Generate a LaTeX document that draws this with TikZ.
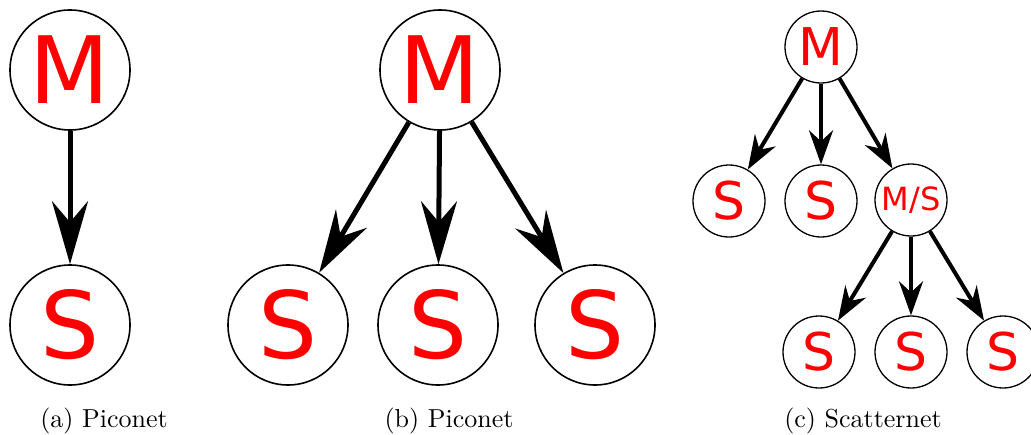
\documentclass[tikz,border=0pt]{standalone}
\usepackage{fontspec}
\newfontfamily\nodefont{DejaVu Sans}
\usetikzlibrary{arrows.meta}
\begin{document}
\begin{tikzpicture}[x=1pt,y=-1pt,
  big/.style={circle, draw=black, line width=1.6pt, fill=white, minimum size=120pt, inner sep=0pt, text=red, font=\nodefont\fontsize{93}{93}\selectfont},
  small/.style={circle, draw=black, line width=1.3pt, fill=white, minimum size=72pt, inner sep=0pt, text=red, font=\nodefont\fontsize{52}{52}\selectfont},
  mixed/.style={small, font=\nodefont\fontsize{32}{32}\selectfont},
  bigarrow/.style={line width=5pt, -{Stealth[length=63pt, width=36pt, inset=21pt]}},
  smallarrow/.style={line width=4pt, -{Stealth[length=34pt, width=24pt, inset=11pt]}},
  caption/.style={font=\normalsize, scale=2.6, anchor=base}]
\useasboundingbox (0,0) rectangle (1031,434);
% (a)
\node[big] (aM) at (70,70) {M};
\node[big] (aS) at (70,325) {S};
\draw[bigarrow] (aM) -- (aS);
\node[caption] (capA) at (104,427) {(a) Piconet};
% (b)
\node[big] (bM) at (440,70) {M};
\node[big] (bS1) at (288,325) {S};
\node[big] (bS2) at (438,325) {S};
\node[big] (bS3) at (595,325) {S};
\draw[bigarrow] (bM) -- (bS1);
\draw[bigarrow] (bM) -- (bS2);
\draw[bigarrow] (bM) -- (bS3);
\node[caption] (capB) at (449,427) {(b) Piconet};
% (c)
\node[small] (cM) at (821,47) {M};
\node[small] (cS1) at (729,201) {S};
\node[small] (cS2) at (821,201) {S};
\node[mixed] (cMS) at (911,200) {M/S};
\node[small] (cS3) at (819,352) {S};
\node[small] (cS4) at (911,352) {S};
\node[small] (cS5) at (1003,352) {S};
\draw[smallarrow] (cM) -- (cS1);
\draw[smallarrow] (cM) -- (cS2);
\draw[smallarrow] (cM) -- (cMS);
\draw[smallarrow] (cMS) -- (cS3);
\draw[smallarrow] (cMS) -- (cS4);
\draw[smallarrow] (cMS) -- (cS5);
\node[caption] (capC) at (863,427) {(c) Scatternet};
\end{tikzpicture}
\end{document}
